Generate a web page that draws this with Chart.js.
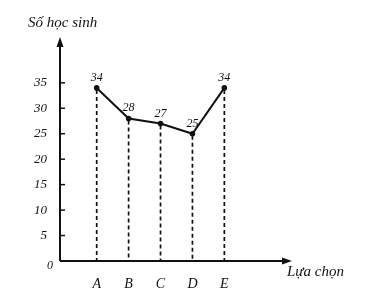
<!DOCTYPE html>
<html>
<head>
<meta charset="utf-8">
<script src="https://cdn.jsdelivr.net/npm/chart.js@4"></script>
<style>
	html, body { margin: 0; padding: 0; background: #fff; }
	canvas { display: block; }
</style>
</head>
<body>
<canvas id="chart" width="372" height="289"></canvas>
<script>
// Values
var choices = ["A", "B", "C", "D", "E"];
var students = [34, 28, 27, 25, 34];
var yTicks = [0, 5, 10, 15, 20, 25, 30, 35];
var yTitle = "Số học sinh";
var xTitle = "Lựa chọn";

var FONT = "'Liberation Serif', 'DejaVu Serif', serif";
var INK = "#111";

function arrow(ctx, x, y, dir) {
	// filled triangle with its tip at (x, y)
	ctx.beginPath();
	if (dir === "up") {
		ctx.moveTo(x, y);
		ctx.lineTo(x - 3.5, y + 10);
		ctx.lineTo(x + 3.5, y + 10);
	} else {
		ctx.moveTo(x, y);
		ctx.lineTo(x - 10, y - 3.5);
		ctx.lineTo(x - 10, y + 3.5);
	}
	ctx.closePath();
	ctx.fill();
}

// Axes, arrows, dashed drop lines and value labels
var sketchPlugin = {
	id: "sketch",
	beforeDraw: function(chart) {
		var ctx = chart.ctx;
		ctx.save();
		ctx.fillStyle = "#fff";
		ctx.fillRect(0, 0, chart.width, chart.height);
		ctx.restore();
	},
	afterDatasetsDraw: function(chart) {
		var ctx = chart.ctx;
		var area = chart.chartArea;
		var xs = chart.scales.x, ys = chart.scales.y;
		var x0 = area.left, y0 = ys.getPixelForValue(0);

		ctx.save();
		ctx.strokeStyle = INK;
		ctx.fillStyle = INK;

		// dashed drop lines
		ctx.lineWidth = 1.7;
		ctx.setLineDash([4, 3]);
		for (var i = 0; i < students.length; i++) {
			var px = xs.getPixelForValue(i);
			ctx.beginPath();
			ctx.moveTo(px, ys.getPixelForValue(students[i]) + 2);
			ctx.lineTo(px, y0);
			ctx.stroke();
		}
		ctx.setLineDash([]);

		// axes
		ctx.lineWidth = 2;
		ctx.beginPath();
		ctx.moveTo(x0, y0);
		ctx.lineTo(x0, area.top + 8);
		ctx.moveTo(x0, y0);
		ctx.lineTo(area.right - 8, y0);
		ctx.stroke();
		arrow(ctx, x0, area.top, "up");
		arrow(ctx, area.right, y0, "right");

		// small tick marks inside the y axis
		ctx.lineWidth = 1.5;
		for (var t = 1; t < yTicks.length; t++) {
			var ty = ys.getPixelForValue(yTicks[t]);
			ctx.beginPath();
			ctx.moveTo(x0, ty);
			ctx.lineTo(x0 + 5, ty);
			ctx.stroke();
		}

		// origin label
		ctx.font = "italic 12px " + FONT;
		ctx.textAlign = "right";
		ctx.textBaseline = "middle";
		ctx.fillText("0", x0 - 7, y0 + 5);

		// value labels above the points
		ctx.textAlign = "center";
		ctx.textBaseline = "alphabetic";
		for (var k = 0; k < students.length; k++) {
			ctx.fillText(String(students[k]),
				xs.getPixelForValue(k),
				ys.getPixelForValue(students[k]) - 7);
		}

		// axis titles
		ctx.font = "italic 15px " + FONT;
		ctx.textAlign = "left";
		ctx.fillText(yTitle, 28, 27);
		ctx.fillText(xTitle, area.right - 5, y0 + 15);
		ctx.restore();
	}
};

new Chart(document.getElementById("chart"), {
	type: "line",
	data: {
		datasets: [{
			data: students.map(function(v, i) { return { x: i, y: v }; }),
			borderColor: INK,
			backgroundColor: INK,
			borderWidth: 2,
			pointRadius: 1.8,
			tension: 0
		}]
	},
	options: {
		responsive: false,
		animation: false,
		layout: { padding: { top: 37, right: 80, left: 0, bottom: 0 } },
		scales: {
			x: {
				type: "linear",
				min: -1.15,
				max: 6.12,
				grid: { display: false },
				border: { display: false },
				afterFit: function(scale) { scale.height = 28; },
				afterBuildTicks: function(scale) {
					scale.ticks = choices.map(function(c, i) { return { value: i }; });
				},
				ticks: {
					padding: 7,
					color: INK,
					font: { family: FONT, style: "italic", size: 14 },
					callback: function(v) { return choices[v] || ""; }
				}
			},
			y: {
				min: 0,
				max: 44,
				grid: { display: false },
				border: { display: false },
				afterFit: function(scale) { scale.width = 60; },
				afterBuildTicks: function(scale) {
					scale.ticks = yTicks.map(function(v) { return { value: v }; });
				},
				ticks: {
					padding: 5,
					color: INK,
					font: { family: FONT, style: "italic", size: 13 },
					callback: function(v) { return v === 0 ? "" : String(v); }
				}
			}
		},
		plugins: {
			legend: { display: false },
			tooltip: { enabled: false }
		}
	},
	plugins: [sketchPlugin]
});
</script>
</body>
</html>
